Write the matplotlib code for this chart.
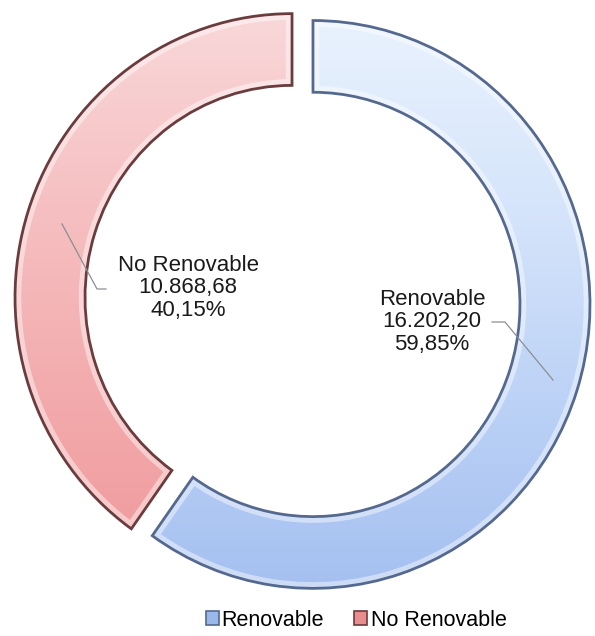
import matplotlib

matplotlib.use("Agg")
import matplotlib.pyplot as plt
import numpy as np
from matplotlib.colors import LinearSegmentedColormap
from matplotlib.patches import Patch, PathPatch

plt.rcParams["font.family"] = ["Liberation Sans", "DejaVu Sans"]

# Energy supply split
categories = ["Renovable", "No Renovable"]
values = [16202.20, 10868.68]

W, H = 595, 636
SY = 1.025  # the ring is drawn a touch taller than wide
RADIUS = 277
RING = 70
EXPLODE = 11.0


def to_data(px, py):
    # pixel position (origin top-left) -> data coordinates
    return px, (H - py) / SY


CENTER = to_data(302.5, 301)

# colour ramps, light at the top of each slice, deeper towards the bottom
ramps = [
    ["#a4bff0", "#bcd2f6", "#d6e5fb", "#eaf3fe"],
    ["#ef9799", "#f3aaac", "#f6c0c2", "#f9d8da"],
]
edge_colors = ["#55698f", "#6a3c3e"]
legend_colors = ["#9bb8ea", "#e98e90"]


def euro_number(x):
    s = f"{x:,.2f}"
    return s.replace(",", "X").replace(".", ",").replace("X", ".")


fig = plt.figure(figsize=(W / 100, H / 100), dpi=100)
ax = fig.add_axes([0, 0, 1, 1])

total = sum(values)
wedges, _ = ax.pie(
    values,
    startangle=90,
    counterclock=False,
    radius=RADIUS,
    center=CENTER,
    explode=[EXPLODE] * len(values),
    wedgeprops=dict(width=RING, linewidth=0),
    frame=True,
)
ax.axis("off")

yy = np.linspace(0, 1, 256).reshape(-1, 1)
for wedge, ramp, ec in zip(wedges, ramps, edge_colors):
    cmap = LinearSegmentedColormap.from_list("ramp", ramp)
    im = ax.imshow(yy, cmap=cmap, extent=(0, W, 40 / SY, (H - 10) / SY), origin="lower",
                   aspect="auto", zorder=2, interpolation="bilinear")
    im.set_clip_path(wedge)
    # soft bevel: a wide white stroke kept inside the slice
    bevel = PathPatch(wedge.get_path(), transform=wedge.get_transform(),
                      facecolor="none", edgecolor="white", linewidth=9,
                      alpha=0.45, zorder=3)
    ax.add_patch(bevel)
    bevel.set_clip_path(wedge)
    outline = PathPatch(wedge.get_path(), transform=wedge.get_transform(),
                        facecolor="none", edgecolor=ec, linewidth=2.0, zorder=4)
    ax.add_patch(outline)

ax.set_aspect("auto")
ax.set_xlim(0, W)
ax.set_ylim(0, H / SY)

# data labels with leader lines
label_pos = [to_data(432, 322), to_data(188, 288)]
leader_pts = [
    [(492, 322), (505, 322), (553, 380)],
    [(106, 289), (97, 289), (62, 224)],
]
for name, val, (lx, ly), pts in zip(categories, values, label_pos, leader_pts):
    txt = f"{name}\n{euro_number(val)}\n{euro_number(val / total * 100)}%"
    ax.text(lx, ly, txt, ha="center", va="center", fontsize=16,
            color="#1a1a1a", linespacing=1.1, zorder=6)
    xs, ys = zip(*[to_data(px, py) for px, py in pts])
    ax.plot(xs, ys, color="#8a8f96", linewidth=0.9, zorder=5)

handles = [Patch(facecolor=c, edgecolor=e, linewidth=1.2)
           for c, e in zip(legend_colors, edge_colors)]
fig.legend(handles, categories, loc="center", bbox_to_anchor=(356 / W, 1 - 620 / H),
           ncol=2, frameon=False, fontsize=15.5, handlelength=0.6,
           handleheight=0.6, handletextpad=0.15, columnspacing=1.4)

fig.savefig("out.png", dpi=100)
